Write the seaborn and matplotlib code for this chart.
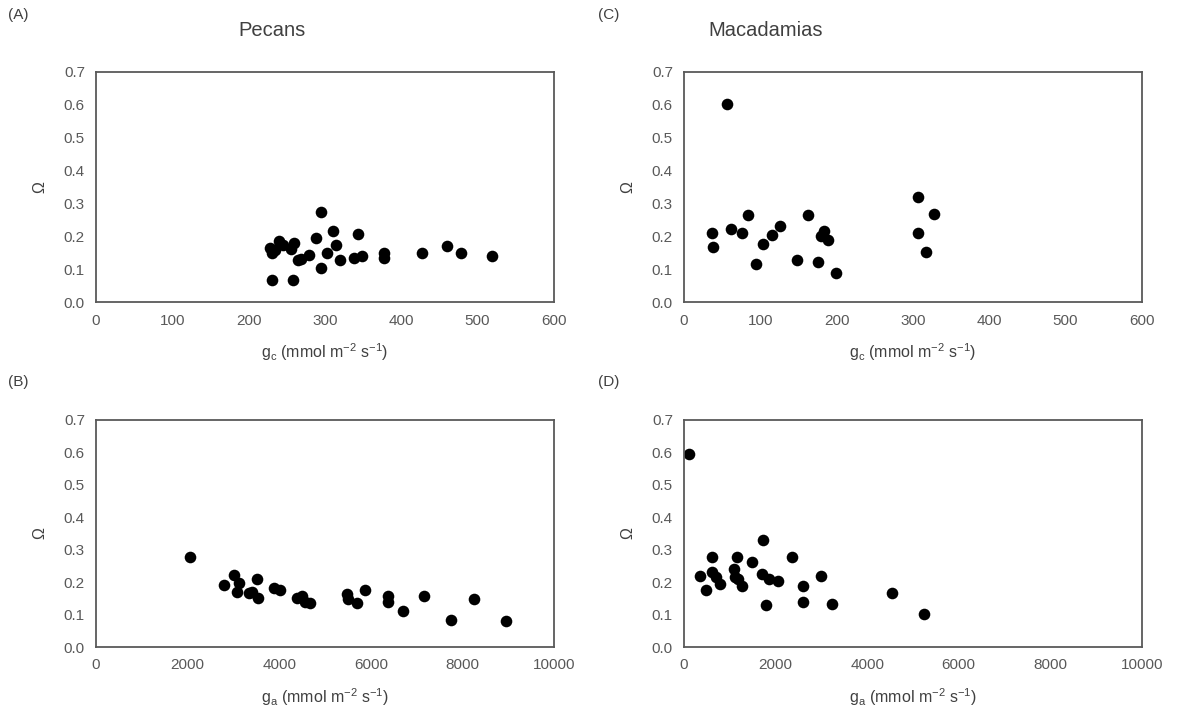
import pandas as pd
import seaborn as sns
import matplotlib.pyplot as plt

# Pecans: omega vs canopy conductance (gc) and aerodynamic conductance (ga)
pecan_gc = [295, 311, 343, 288, 240, 259, 228, 230, 314, 255, 303, 279, 268, 264,
            320, 338, 349, 377, 377, 427, 460, 478, 519, 295, 230, 258, 235, 245]
pecan_gc_omega = [0.275, 0.216, 0.207, 0.195, 0.185, 0.180, 0.165, 0.150, 0.175, 0.162,
                  0.150, 0.145, 0.132, 0.130, 0.130, 0.135, 0.142, 0.150, 0.135, 0.150,
                  0.172, 0.150, 0.140, 0.103, 0.069, 0.069, 0.158, 0.175]

pecan_ga = [2057, 3020, 2786, 3114, 3077, 3333, 3515, 3530, 3406, 3880, 4012, 4391,
            4500, 4573, 4683, 5486, 5500, 5689, 5864, 6374, 6374, 6703, 7162, 7746,
            8257, 8950]
pecan_ga_omega = [0.276, 0.221, 0.191, 0.198, 0.171, 0.168, 0.211, 0.152, 0.171, 0.183,
                  0.176, 0.152, 0.158, 0.140, 0.137, 0.163, 0.148, 0.137, 0.176, 0.158,
                  0.140, 0.110, 0.156, 0.082, 0.148, 0.079]

# Macadamias
mac_gc = [56, 37, 38, 62, 76, 84, 94, 104, 115, 126, 148, 162, 175, 183, 179, 188,
          199, 307, 328, 307, 317]
mac_gc_omega = [0.600, 0.212, 0.167, 0.223, 0.212, 0.266, 0.118, 0.177, 0.205, 0.233,
                0.128, 0.266, 0.123, 0.218, 0.200, 0.190, 0.090, 0.321, 0.269, 0.212,
                0.153]

mac_ga = [116, 1718, 605, 1164, 1492, 2352, 349, 605, 699, 786, 480, 1092, 1114, 1186,
          1260, 1697, 1863, 2059, 1790, 2592, 2592, 2991, 3225, 4548, 5240]
mac_ga_omega = [0.595, 0.330, 0.276, 0.276, 0.261, 0.277, 0.220, 0.232, 0.217, 0.194,
                0.176, 0.240, 0.217, 0.210, 0.188, 0.225, 0.210, 0.204, 0.130, 0.189,
                0.138, 0.220, 0.133, 0.166, 0.101]

gc_ticks = [0, 100, 200, 300, 400, 500, 600]
ga_ticks = [0, 2000, 4000, 6000, 8000, 10000]
omega_ticks = [0.0, 0.1, 0.2, 0.3, 0.4, 0.5, 0.6, 0.7]

sns.set_style("white")
plt.rcParams['font.family'] = ['Liberation Sans', 'DejaVu Sans']
plt.rcParams['mathtext.default'] = 'regular'

fig = plt.figure(figsize=(11.8, 7.15), dpi=100)
axA = fig.add_axes([0.0814, 0.577, 0.388, 0.323])
axB = fig.add_axes([0.0814, 0.095, 0.388, 0.318])
axC = fig.add_axes([0.5797, 0.577, 0.388, 0.323])
axD = fig.add_axes([0.5797, 0.095, 0.388, 0.318])

gc_label = 'g$_c$ (mmol m$^{-2}$ s$^{-1}$)'
ga_label = 'g$_a$ (mmol m$^{-2}$ s$^{-1}$)'

panels = [
    (axA, pecan_gc, pecan_gc_omega, gc_ticks, gc_label),
    (axB, pecan_ga, pecan_ga_omega, ga_ticks, ga_label),
    (axC, mac_gc, mac_gc_omega, gc_ticks, gc_label),
    (axD, mac_ga, mac_ga_omega, ga_ticks, ga_label),
]

for ax, x, y, xt, xl in panels:
    df = pd.DataFrame({'x': x, 'omega': y})
    sns.scatterplot(data=df, x='x', y='omega', ax=ax, color='black', s=70,
                    edgecolor='black', linewidth=0)
    ax.set_xlim(xt[0], xt[-1])
    ax.set_ylim(0, 0.7)
    ax.set_xticks(xt)
    ax.set_yticks(omega_ticks)
    ax.set_yticklabels([f'{v:.1f}' for v in omega_ticks])
    ax.tick_params(length=0, labelsize=11, labelcolor='#595959', pad=8)
    ax.set_xlabel(xl, fontsize=11.5, color='#404040', labelpad=10)
    ax.set_ylabel('Ω', fontsize=11.5, color='#404040', labelpad=12)
    for sp in ax.spines.values():
        sp.set_color('#595959')
        sp.set_linewidth(1.3)

# column titles and panel letters
fig.text(272 / 1180, 1 - 30 / 715, 'Pecans', fontsize=14.5, ha='center', va='center', color='#404040')
fig.text(766 / 1180, 1 - 30 / 715, 'Macadamias', fontsize=14.5, ha='center', va='center', color='#404040')
for lab, xp, yp in [('(A)', 8, 15), ('(B)', 8, 382), ('(C)', 598, 15), ('(D)', 598, 382)]:
    fig.text(xp / 1180, 1 - yp / 715, lab, fontsize=11, ha='left', va='center', color='#404040')

plt.savefig('out.png', dpi=100)
